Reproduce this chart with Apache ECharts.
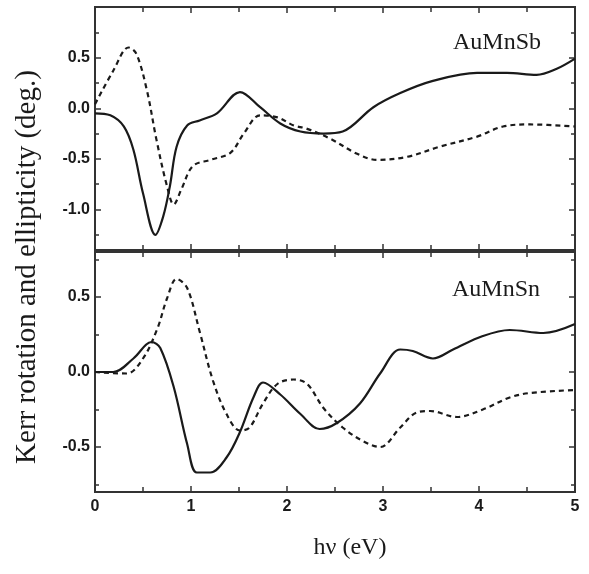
<!DOCTYPE html>
<html><head><meta charset="utf-8">
<script src="https://cdn.jsdelivr.net/npm/echarts@6/dist/echarts.min.js"></script>
<style>html,body{margin:0;padding:0;background:#fff}#c{width:589px;height:574px}</style>
</head><body><div id="c"></div>
<script>
// ---- data ----
const sbRotX = [0, 0.16, 0.3, 0.4, 0.5, 0.63, 0.71, 0.78, 0.85, 0.96, 1.09, 1.27, 1.51, 1.72, 1.93, 2.14, 2.38, 2.58, 2.9, 3.18, 3.52, 3.98, 4.29, 4.6, 4.81, 5.0];
const sbRotY = [-0.05, -0.07, -0.18, -0.41, -0.84, -1.25, -1.07, -0.77, -0.38, -0.17, -0.12, -0.05, 0.16, 0.01, -0.15, -0.23, -0.25, -0.23, 0.01, 0.15, 0.27, 0.35, 0.35, 0.33, 0.39, 0.49];
const sbEllX = [0, 0.19, 0.35, 0.43, 0.54, 0.64, 0.75, 0.82, 0.9, 1.02, 1.2, 1.41, 1.55, 1.72, 1.9, 2.07, 2.2, 2.45, 2.73, 2.94, 3.25, 3.59, 3.98, 4.25, 4.53, 5.0];
const sbEllY = [0.04, 0.37, 0.6, 0.54, 0.18, -0.31, -0.77, -0.95, -0.8, -0.57, -0.51, -0.44, -0.25, -0.07, -0.09, -0.17, -0.2, -0.3, -0.45, -0.51, -0.48, -0.38, -0.28, -0.18, -0.16, -0.18];
const snRotX = [0, 0.19, 0.4, 0.59, 0.68, 0.82, 0.96, 1.06, 1.2, 1.37, 1.51, 1.65, 1.75, 1.93, 2.14, 2.34, 2.52, 2.76, 2.97, 3.18, 3.31, 3.52, 3.73, 4.04, 4.32, 4.67, 5.0];
const snRotY = [0, 0, 0.09, 0.2, 0.16, -0.1, -0.48, -0.67, -0.67, -0.57, -0.4, -0.17, -0.07, -0.15, -0.28, -0.38, -0.34, -0.21, -0.01, 0.15, 0.14, 0.09, 0.15, 0.24, 0.28, 0.26, 0.32];
const snEllX = [0, 0.33, 0.5, 0.65, 0.75, 0.85, 0.96, 1.09, 1.23, 1.37, 1.51, 1.61, 1.75, 1.9, 2.07, 2.21, 2.38, 2.58, 2.79, 2.97, 3.18, 3.35, 3.49, 3.77, 4.04, 4.32, 4.53, 5.0];
const snEllY = [0, -0.01, 0.09, 0.29, 0.49, 0.62, 0.56, 0.27, -0.06, -0.28, -0.39, -0.37, -0.21, -0.08, -0.05, -0.08, -0.24, -0.37, -0.46, -0.5, -0.37, -0.27, -0.26, -0.3, -0.25, -0.17, -0.14, -0.12];
const topMajor = [-1.0, -0.5, 0.0, 0.5];
const topMinor = [-1.25, -0.75, -0.25, 0.25, 0.75];
const botMajor = [-0.5, 0.0, 0.5];
const botMinor = [-0.75, -0.25, 0.25, 0.75];
const xTicks = [0, 1, 2, 3, 4, 5];
const panelNames = ['AuMnSb', 'AuMnSn'];
const xTitle = 'hν (eV)';
const yTitle = 'Kerr rotation and ellipticity (deg.)';

const zip = (xs, ys) => xs.map((x, i) => [x, ys[i]]);
const FONT = '"Liberation Serif", "DejaVu Serif", serif';
const SANS = '"Liberation Sans", Arial, sans-serif';
const C = '#1a1a1a';

const chart = echarts.init(document.getElementById('c'));

const grids = [
  {left: 95, right: 14, top: 7, height: 243, show: true, borderColor: '#333', borderWidth: 2},
  {left: 95, right: 14, top: 252, height: 240, show: true, borderColor: '#333', borderWidth: 2}
];

function xAx(grid, pos, labels) {
  return {
    type: 'value', gridIndex: grid, position: pos, min: 0, max: 5, interval: 1,
    axisLine: {show: false, onZero: false},
    axisTick: {show: true, inside: true, length: 6, lineStyle: {color: '#333', width: 1.5}},
    minorTick: {show: true, splitNumber: 2, length: 5, lineStyle: {color: '#333', width: 1.5}},
    splitLine: {show: false}, minorSplitLine: {show: false},
    axisLabel: {show: labels, color: C, fontFamily: SANS, fontWeight: 'bold', fontSize: 16, margin: 7,
      customValues: xTicks, formatter: v => String(Math.round(v))}
  };
}
function yAx(grid, pos, min, max, vals, len, labels) {
  return {
    type: 'value', gridIndex: grid, position: pos, min: min, max: max,
    axisLine: {show: false, onZero: false},
    axisTick: {show: true, inside: true, length: len, customValues: vals, lineStyle: {color: '#333', width: 1.5}},
    splitLine: {show: false},
    axisLabel: {show: labels, customValues: vals, color: C, fontFamily: SANS, fontWeight: 'bold', fontSize: 16, margin: 5,
      formatter: v => v.toFixed(1)}
  };
}

const option = {
  animation: false,
  backgroundColor: '#fff',
  grid: grids,
  xAxis: [
    xAx(0, 'bottom', false), xAx(0, 'top', false),
    xAx(1, 'bottom', true), xAx(1, 'top', false)
  ],
  yAxis: [
    yAx(0, 'left', -1.4, 1.0, topMajor, 6, true),
    yAx(0, 'right', -1.4, 1.0, topMajor, 6, false),
    yAx(0, 'left', -1.4, 1.0, topMinor, 4, false),
    yAx(0, 'right', -1.4, 1.0, topMinor, 4, false),
    yAx(1, 'left', -0.8, 0.8, botMajor, 6, true),
    yAx(1, 'right', -0.8, 0.8, botMajor, 6, false),
    yAx(1, 'left', -0.8, 0.8, botMinor, 4, false),
    yAx(1, 'right', -0.8, 0.8, botMinor, 4, false)
  ],
  series: [
    {type: 'line', xAxisIndex: 0, yAxisIndex: 0, data: zip(sbRotX, sbRotY), smooth: 0.35, showSymbol: false,
      lineStyle: {color: C, width: 2.2}},
    {type: 'line', xAxisIndex: 0, yAxisIndex: 0, data: zip(sbEllX, sbEllY), smooth: 0.35, showSymbol: false,
      lineStyle: {color: C, width: 2.2, type: [5, 4]}},
    {type: 'line', xAxisIndex: 2, yAxisIndex: 4, data: zip(snRotX, snRotY), smooth: 0.35, showSymbol: false,
      lineStyle: {color: C, width: 2.2}},
    {type: 'line', xAxisIndex: 2, yAxisIndex: 4, data: zip(snEllX, snEllY), smooth: 0.35, showSymbol: false,
      lineStyle: {color: C, width: 2.2, type: [5, 4]}}
  ],
  graphic: [
    {type: 'text', left: 453, top: 31, style: {text: panelNames[0], font: '24px ' + FONT, fill: C}},
    {type: 'text', left: 452, top: 278, style: {text: panelNames[1], font: '24px ' + FONT, fill: C}},
    {type: 'text', x: 350, y: 548, style: {text: xTitle, font: '24px ' + FONT, fill: C, align: 'center', verticalAlign: 'middle'}},
    {type: 'text', x: 27, y: 267, rotation: Math.PI / 2,
      style: {text: yTitle, font: '29px ' + FONT, fill: C, align: 'center', verticalAlign: 'middle'}}
  ]
};
chart.setOption(option);
</script></body></html>
